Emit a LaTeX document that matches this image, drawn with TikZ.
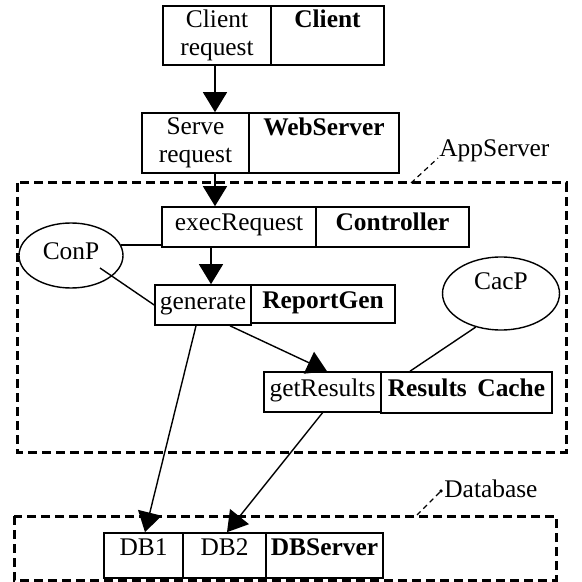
\documentclass[tikz,border=0pt]{standalone}
\usepackage{fontspec}
\setmainfont{Liberation Serif}
\usetikzlibrary{arrows.meta,calc,shapes.geometric}
\begin{document}
\begin{tikzpicture}[x=0.5pt,y=-0.5pt,
  every node/.style={font=\fontsize{12.7}{14}\selectfont},
  cell/.style={draw,line width=0.8pt,rectangle,inner sep=0pt,align=center},
  one/.style={text height=9pt,text depth=5pt},
  dbt/.style={text height=8pt,text depth=8pt},
  conn/.style={line width=0.7pt},
  arr/.style={conn,-{Triangle[length=10pt,width=12pt]}},
  grp/.style={line width=1.5pt,dash pattern=on 4.5pt off 2.5pt},
  lead/.style={line width=0.6pt,dash pattern=on 2.5pt off 2pt},
  oval/.style={draw,ellipse,line width=0.7pt,inner sep=0pt}]
\useasboundingbox (0,0) rectangle (582,582);

% group boxes
\draw[grp] (17,183) rectangle (566,452);
\draw[grp] (14,516) rectangle (556,580);
\coordinate (appfoot) at (411,183);
\coordinate (apphead) at (438,158);
\coordinate (dbfoot) at (417,515);
\coordinate (dbhead) at (441,491);
\node[anchor=base west,inner sep=0pt] (applbl) at (439,157) {AppServer};
\node[anchor=base west,inner sep=0pt] (dblbl) at (444,497) {Database};
\draw[lead] (appfoot) -- (apphead);
\draw[lead] (dbfoot) -- (dbhead);
\fill (dbhead) circle (0.9pt);

% cells
\node[cell,minimum width=54pt,minimum height=29.5pt] (clientL) at (217,35.5) {Client\\request};
\node[cell,minimum width=56.5pt,minimum height=29.5pt] (clientR) at (327.5,35.5) {\textbf{Client}\\\vphantom{request}};
\node[cell,minimum width=53.5pt,minimum height=30pt] (webL) at (195.5,143) {Serve\\request};
\node[cell,minimum width=75pt,minimum height=30pt] (webR) at (324,143) {\textbf{WebServer}\\\vphantom{request}};
\node[cell,one,minimum width=77pt,minimum height=20pt] (ctrlL) at (239,227) {execRequest};
\node[cell,one,minimum width=76.5pt,minimum height=20pt] (ctrlR) at (392.5,227) {\textbf{Controller}};
\node[cell,one,minimum width=48pt,minimum height=20pt] (genL) at (203,305) {generate};
\node[cell,one,minimum width=72pt,minimum height=19pt] (genR) at (323,304) {\textbf{ReportGen}};
\node[cell,one,minimum width=58.5pt,minimum height=20pt] (getL) at (322.5,392) {getResults};
\node[cell,one,minimum width=85.5pt,minimum height=20.5pt] (getR) at (466.5,392.5) {\textbf{Results\, Cache}};
\node[cell,dbt,minimum width=39.5pt,minimum height=22.5pt] (db1) at (143.5,555.5) {DB1};
\node[cell,dbt,minimum width=41.5pt,minimum height=22.5pt] (db2) at (224.5,555.5) {DB2};
\node[cell,dbt,minimum width=58.5pt,minimum height=22.5pt] (dbs) at (324.5,555.5) {\textbf{DBServer}};

% ovals
\node[oval,one,minimum width=52pt,minimum height=32.5pt] (conp) at (71,255.5) {ConP};
\node[oval,text height=9pt,text depth=13pt,minimum width=58.5pt,minimum height=36.5pt] (cacp) at (501,293.5) {CacP};

% connectors
\draw[arr] ([xshift=-1pt]clientL.south) -- ([xshift=-1pt]clientL.south |- webL.north);
\draw[arr] ([xshift=9.75pt]webL.south) -- ([xshift=9.75pt]webL.south |- ctrlL.north);
\draw[arr] ([xshift=-14pt]ctrlL.south) -- ([xshift=-14pt]ctrlL.south |- genL.north);
\draw[arr] ([xshift=13.5pt]genL.south) -- ([xshift=2.25pt]getL.north);
\draw[arr] ([xshift=-3.5pt]genL.south) -- ([xshift=0.75pt]db1.north);
\draw[arr] (getL.south) -- ([xshift=1.25pt]db2.north);
\draw[conn] (conp.12) -- (conp.12 -| ctrlL.west);
\draw[conn] ([shift={(14.5pt,-6.25pt)}]conp.center) -- (genL.west);
\draw[conn] (cacp.233) -- ([xshift=-28.25pt]getR.north);
\end{tikzpicture}
\end{document}
